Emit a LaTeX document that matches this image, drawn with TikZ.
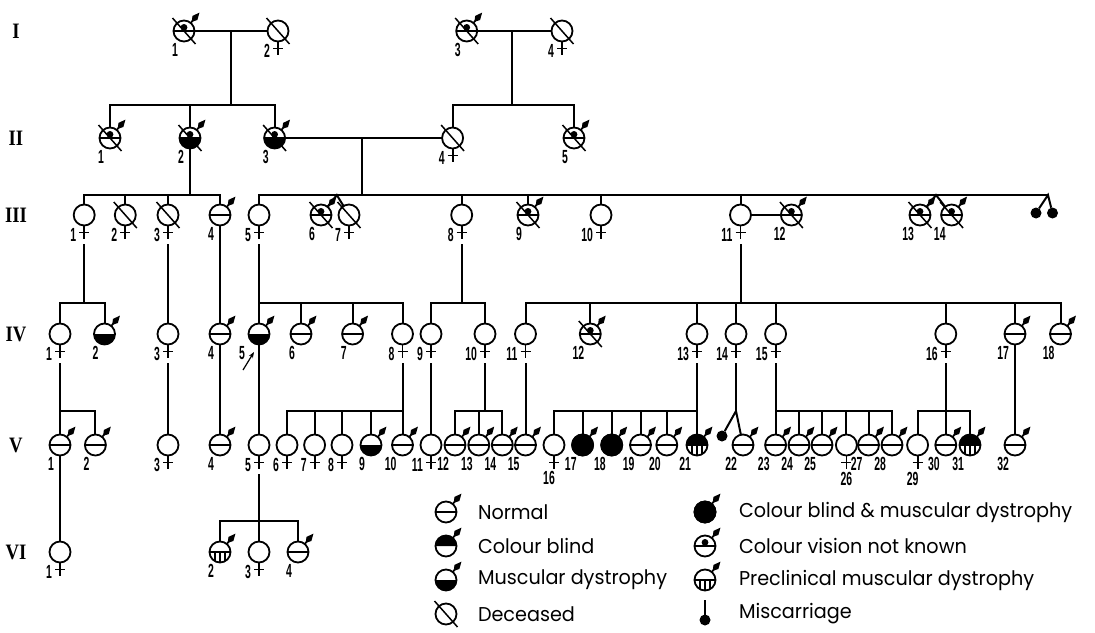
\documentclass[tikz,border=0pt]{standalone}
\usepackage{fontspec}
\setmainfont{Liberation Sans}
\newfontfamily\labfont[FakeStretch=0.55]{Liberation Sans}
\newfontfamily\legfont[FakeStretch=0.96]{Poppins}
\newfontfamily\romfont[FakeStretch=0.85]{Liberation Serif}
\usetikzlibrary{arrows.meta}
\tikzset{
  pc/.style={circle, draw, fill=white, line width=1.8pt, minimum size=21pt, inner sep=0pt, outer sep=0pt},
  md/.style={circle, fill, minimum size=11pt, inner sep=0pt, outer sep=0pt},
  lab/.style={font=\labfont\bfseries\fontsize{19}{19}\selectfont, inner sep=0pt},
  gen/.style={font=\romfont\bfseries\fontsize{22}{22}\selectfont, inner sep=0pt},
  leg/.style={font=\legfont\fontsize{20}{20}\selectfont, anchor=west, inner sep=0pt},
}
\newcommand\pdMale[1]{\begin{scope}[shift={(#1.center)},rotate=50]
  \draw[line width=1.7pt] (10,0) -- (14,0);
  \fill (12,0) -- (17,3.2) -- (24,0) -- (17,-3.2) -- cycle;
\end{scope}}
\newcommand\pdFem[1]{\begin{scope}[shift={(#1.center)}]
  \draw[line width=1.8pt] (0,10.5) -- (0,24) (-5,17.5) -- (5,17.5);
  \coordinate (#1x) at (0,29);
\end{scope}}
\newcommand\pdMid[1]{\begin{scope}[shift={(#1.center)}]\draw[line width=1.7pt] (-10.5,0) -- (10.5,0);\end{scope}}
\newcommand\pdTop[1]{\begin{scope}[shift={(#1.center)}]\fill (10.5,0) arc (0:-180:10.5) -- cycle;\end{scope}}
\newcommand\pdBot[1]{\begin{scope}[shift={(#1.center)}]\fill (10.5,0) arc (0:180:10.5) -- cycle;\end{scope}}
\newcommand\pdFull[1]{\begin{scope}[shift={(#1.center)}]\fill (0,0) circle (11.4);\end{scope}}
\newcommand\pdUnk[1]{\begin{scope}[shift={(#1.center)}]\draw[line width=1.7pt] (-10.5,0) -- (10.5,0);\fill (0,-3.6) circle (3.4);\end{scope}}
\newcommand\pdStr[1]{\begin{scope}[shift={(#1.center)}]\draw[line width=1.7pt] (-10.5,0) -- (10.5,0);\draw[line width=1.5pt] (-4.8,0) -- (-4.8,9.3) (0,0) -- (0,10.5) (4.8,0) -- (4.8,9.3);\end{scope}}
\newcommand\pdDead[1]{\begin{scope}[shift={(#1.center)}]\draw[line width=1.5pt] (-11.5,-13) -- (11.5,13);\end{scope}}
\newcommand\pdLab[4]{\begin{scope}[shift={(#1.center)}]\node[lab,anchor=#3] (#1n) at #4 {#2};\end{scope}}
\newcommand\pmale[4]{\node[pc] (#1) at (#2,#3) {};\pdMale{#1}\pdLab{#1}{#4}{north east}{(-5,11)}}
\newcommand\pfem[4]{\node[pc] (#1) at (#2,#3) {};\pdFem{#1}\pdLab{#1}{#4}{north east}{(-7,12)}}
\newcommand\pfemB[5]{\node[pc] (#1) at (#2,#3) {};\pdFem{#1}\pdLab{#1}{#4}{north}{#5}}

\begin{document}
\begin{tikzpicture}[x=1pt,y=-1pt,line width=2pt]
\useasboundingbox (0,0) rectangle (1095,632);
\fill[white] (0,0) rectangle (1095,632);

% generation labels
\node[gen] (gI) at (16,31) {I};
\node[gen] (gII) at (16,138) {II};
\node[gen] (gIII) at (16,215) {III};
\node[gen] (gIV) at (16,334) {IV};
\node[gen] (gV) at (16,445) {V};
\node[gen] (gVI) at (16,552) {VI};

% ---------- Generation I
\pmale{I1}{184}{31}{1}\pdUnk{I1}\pdDead{I1}
\pfem{I2}{278}{31}{2}\pdDead{I2}
\pmale{I3}{466.7}{31}{3}\pdUnk{I3}\pdDead{I3}
\pfem{I4}{562}{31}{4}\pdDead{I4}

% ---------- Generation II
\pmale{II1}{110}{138}{1}\pdUnk{II1}\pdDead{II1}
\pmale{II2}{190}{138}{2}\pdBot{II2}\pdUnk{II2}\pdDead{II2}
\pmale{II3}{274.6}{138}{3}\pdBot{II3}\pdUnk{II3}\pdDead{II3}
\pfem{II4}{452.6}{138}{4}\pdDead{II4}
\pmale{II5}{574}{138}{5}\pdUnk{II5}\pdDead{II5}

% ---------- Generation III
\pfem{III1}{84.2}{215}{1}
\pfem{III2}{125.3}{215}{2}\pdDead{III2}
\pfem{III3}{168}{215}{3}\pdDead{III3}
\pmale{III4}{220}{215}{4}\pdMid{III4}
\pfem{III5}{259}{215}{5}
\pmale{III6}{321}{215}{6}\pdUnk{III6}\pdDead{III6}
\pfem{III7}{349}{215}{7}\pdDead{III7}
\pfem{III8}{461.7}{215}{8}
\pmale{III9}{528}{215}{9}\pdUnk{III9}\pdDead{III9}
\pfem{III10}{601}{215}{10}
\pfem{III11}{740.5}{215}{11}
\pmale{III12}{791.4}{215}{12}\pdUnk{III12}\pdDead{III12}
\pmale{III13}{920}{215}{13}\pdUnk{III13}\pdDead{III13}
\pmale{III14}{951.6}{215}{14}\pdUnk{III14}\pdDead{III14}
\node[md] (md1) at (1036,213) {};
\node[md] (md2) at (1052.5,213) {};

% ---------- Generation IV
\pfem{IV1}{60}{334}{1}
\pmale{IV2}{104.5}{334}{2}\pdBot{IV2}
\pfem{IV3}{168}{334}{3}
\pmale{IV4}{220}{334}{4}\pdMid{IV4}
\node[pc] (IV5) at (259,334) {};\pdMale{IV5}\pdBot{IV5}\pdLab{IV5}{5}{north east}{(-13,11)}
\begin{scope}[shift={(IV5.center)}]
  \draw[line width=1.2pt,-{Stealth[length=6pt,width=4.5pt]}] (-16,36) -- (-5,18);
\end{scope}
\pmale{IV6}{301}{334}{6}\pdMid{IV6}
\pmale{IV7}{352.6}{334}{7}\pdMid{IV7}
\pfem{IV8}{402.5}{334}{8}
\pfem{IV9}{431}{334}{9}
\pfem{IV10}{485}{334}{10}
\pfem{IV11}{525.5}{334}{11}
\pmale{IV12}{590.3}{334}{12}\pdUnk{IV12}\pdDead{IV12}
\pfem{IV13}{697}{334}{13}
\pfem{IV14}{736}{334}{14}
\pfem{IV15}{775.6}{334}{15}
\pfem{IV16}{945.8}{334}{16}
\pmale{IV17}{1015}{334}{17}\pdMid{IV17}
\pmale{IV18}{1060.5}{334}{18}\pdMid{IV18}

% ---------- Generation V
\pmale{V1}{60}{445}{1}\pdMid{V1}
\pmale{V2}{95.4}{445}{2}\pdMid{V2}
\pfem{V3}{168}{445}{3}
\pmale{V4}{220}{445}{4}\pdMid{V4}
\pfem{V5}{259}{445}{5}
\pfem{V6}{287}{445}{6}
\pfem{V7}{314.6}{445}{7}
\pfem{V8}{342}{445}{8}
\pmale{V9}{371}{445}{9}\pdBot{V9}
\pmale{V10}{402.5}{445}{10}\pdMid{V10}
\pfem{V11}{431}{445}{11}
\pmale{V12}{455}{445}{12}\pdMid{V12}
\pmale{V13}{478.8}{445}{13}\pdMid{V13}
\pmale{V14}{502.3}{445}{14}\pdMid{V14}
\pmale{V15}{525.5}{445}{15}\pdMid{V15}
\pfemB{V16}{554}{445}{16}{(-5,25)}
\pmale{V17}{582.6}{445}{17}\pdFull{V17}
\pmale{V18}{611.7}{445}{18}\pdFull{V18}
\pmale{V19}{640.5}{445}{19}\pdMid{V19}
\pmale{V20}{666.8}{445}{20}\pdMid{V20}
\pmale{V21}{697}{445}{21}\pdTop{V21}\pdStr{V21}
\node[md] (mV) at (722,436) {};
\pmale{V22}{743}{445}{22}\pdMid{V22}
\pmale{V23}{775.6}{445}{23}\pdMid{V23}
\pmale{V24}{799}{445}{24}\pdMid{V24}
\pmale{V25}{822}{445}{25}\pdMid{V25}
\pfemB{V26}{846.4}{445}{26}{(0,26)}
\pmale{V27}{868.5}{445}{27}\pdMid{V27}
\pmale{V28}{892}{445}{28}\pdMid{V28}
\pfemB{V29}{917.6}{445}{29}{(-5,26)}
\pmale{V30}{945.8}{445}{30}\pdMid{V30}
\pmale{V31}{970}{445}{31}\pdTop{V31}\pdStr{V31}
\pmale{V32}{1015}{445}{32}\pdMid{V32}

% ---------- Generation VI
\pfem{VI1}{60}{552}{1}
\pmale{VI2}{220}{552}{2}\pdStr{VI2}
\pfem{VI3}{259}{552}{3}
\pmale{VI4}{298}{552}{4}\pdMid{VI4}

% ---------- junction coordinates
\coordinate (mI1) at (230.5,31);
\coordinate (sII1) at (230.5,104.5);
\coordinate (mI2) at (512.3,31);
\coordinate (sII2) at (512.3,104.5);
\coordinate (mII) at (362,138);
\coordinate (sIII1) at (190,195);
\coordinate (sIII2) at (362,195);
\coordinate (tw1) at (336.8,195);
\coordinate (tw2) at (936,195);
\coordinate (tw3) at (1048,195);
\coordinate (sIV1) at (84.2,303);
\coordinate (sIV2) at (259,303);
\coordinate (sIV3) at (461.7,303);
\coordinate (sIV4) at (740.5,303);
\coordinate (sV1) at (60,411);
\coordinate (sV2) at (402.5,411);
\coordinate (sV3) at (485,411);
\coordinate (sV4) at (697,411);
\coordinate (aV) at (736,411);
\coordinate (sV5) at (775.6,411);
\coordinate (sV6) at (945.8,411);
\coordinate (sVI) at (259,520.5);

% ---------- connectors
\draw (I1) -- (I2);
\draw (I3) -- (I4);
\draw (mI1) -- (sII1);
\draw (II1) |- (sII1) -| (II3);
\draw (II2) -- (II2 |- sII1);
\draw (mI2) -- (sII2);
\draw (II4) |- (sII2) -| (II5);
\draw (II3) -- (II4);
\draw (mII) -- (sIII2);
\draw (II2) -- (sIII1);
\draw (III1) |- (sIII1) -| (III4);
\draw (III2) -- (III2 |- sIII1);
\draw (III3) -- (III3 |- sIII1);
\draw (III5) |- (tw3);
\draw (III8) -- (III8 |- sIII2);
\draw (III9) -- (III9 |- sIII2);
\draw (III10) -- (III10 |- sIII2);
\draw (III11) -- (III11 |- sIII2);
\draw (III6) -- (tw1) -- (III7);
\draw (III13) -- (tw2) -- (III14);
\draw (md1) -- (tw3) -- (md2);
\draw (III11) -- (III12);

\draw (III1x) -- (sIV1);
\draw (IV1) |- (sIV1) -| (IV2);
\draw (III3x) -- (IV3);
\draw (III4) -- (IV4);
\draw (III5x) -- (IV5);
\draw (sIV2) -| (IV8);
\draw (IV6) -- (IV6 |- sIV2);
\draw (IV7) -- (IV7 |- sIV2);
\draw (III8x) -- (sIV3);
\draw (IV9) |- (sIV3) -| (IV10);
\draw (III11x) -- (sIV4);
\draw (IV11) |- (sIV4) -| (IV18);
\draw (IV12) -- (IV12 |- sIV4);
\draw (IV13) -- (IV13 |- sIV4);
\draw (IV14) -- (IV14 |- sIV4);
\draw (IV15) -- (IV15 |- sIV4);
\draw (IV16) -- (IV16 |- sIV4);
\draw (IV17) -- (IV17 |- sIV4);

\draw (IV1x) -- (V1);
\draw (sV1) -| (V2);
\draw (IV3x) -- (V3);
\draw (IV4) -- (V4);
\draw (IV5) -- (V5);
\draw (IV8x) -- (V10);
\draw (sV2) -| (V6);
\draw (V7) -- (V7 |- sV2);
\draw (V8) -- (V8 |- sV2);
\draw (V9) -- (V9 |- sV2);
\draw (IV9x) -- (V11);
\draw (IV10x) -- (sV3);
\draw (V12) |- (sV3) -| (V14);
\draw (V13) -- (V13 |- sV3);
\draw (IV11x) -- (V15);
\draw (IV13x) -- (V21);
\draw (sV4) -| (V16);
\draw (V17) -- (V17 |- sV4);
\draw (V18) -- (V18 |- sV4);
\draw (V19) -- (V19 |- sV4);
\draw (V20) -- (V20 |- sV4);
\draw (IV14x) -- (aV);
\draw (mV) -- (aV) -- (V22);
\draw (IV15x) -- (V23);
\draw (sV5) -| (V28);
\draw (V24) -- (V24 |- sV5);
\draw (V25) -- (V25 |- sV5);
\draw (V26) -- (V26 |- sV5);
\draw (V27) -- (V27 |- sV5);
\draw (IV16x) -- (V30);
\draw (V29) |- (sV6) -| (V31);
\draw (IV17) -- (V32);

\draw (V1) -- (VI1);
\draw (V5x) -- (VI3);
\draw (VI2) |- (sVI) -| (VI4);

% ---------- legend
\node[pc] (L1) at (446,512) {};\pdMale{L1}\pdMid{L1}
\node[leg] (T1) at (477,512) {Normal};
\node[pc] (L2) at (446,546) {};\pdMale{L2}\pdTop{L2}
\node[leg] (T2) at (477,546) {Colour blind};
\node[pc] (L3) at (446,580) {};\pdMale{L3}\pdBot{L3}
\node[leg] (T3) at (477,580) {Muscular dystrophy};
\node[pc] (L4) at (446,614) {};\pdDead{L4}
\node[leg] (T4) at (477,614) {Deceased};
\node[pc] (L5) at (705,512) {};\pdMale{L5}\pdFull{L5}
\node[leg] (T5) at (738,512) {Colour blind \& muscular dystrophy};
\node[pc] (L6) at (705,546) {};\pdMale{L6}\pdUnk{L6}
\node[leg] (T6) at (738,546) {Colour vision not known};
\node[pc] (L7) at (705,580) {};\pdMale{L7}\pdStr{L7}
\node[leg] (T7) at (738,580) {Preclinical muscular dystrophy};
\node[md] (L8) at (705,620) {};
\coordinate (L8t) at (705,600);
\draw (L8t) -- (L8);
\node[leg] (T8) at (738,614) {Miscarriage};
\end{tikzpicture}
\end{document}
